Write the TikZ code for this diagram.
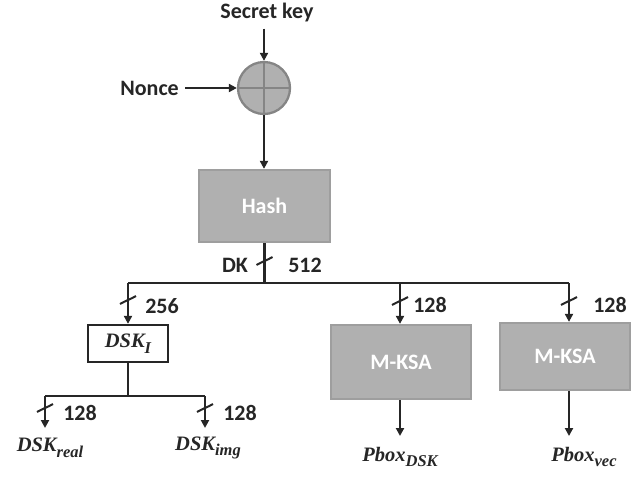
\documentclass[tikz,border=0pt]{standalone}
\usepackage{fontspec}
\setmainfont{Carlito}
\newfontfamily\varfont{Liberation Serif}
\usetikzlibrary{arrows.meta}
% bold italic variable name with a lowered subscript
\newcommand\varname[2]{{\varfont\bfseries\itshape #1\raisebox{-0.28em}{\fontsize{16.5}{18}\selectfont #2}}}
\begin{document}
\begin{tikzpicture}[x=1pt,y=-1pt,
  wire/.style={line width=2.3pt, draw=black!85},
  arr/.style={wire, -{Triangle[length=8pt,width=8pt]}},
  lbl/.style={font=\fontsize{22}{26}\selectfont\bfseries, text=black!85, inner sep=0pt},
  varlbl/.style={font=\fontsize{20.5}{24}\selectfont, text=black!85, inner sep=0pt},
  grayblock/.style={draw=black!38, line width=2.3pt, fill=black!31, text=white,
    font=\fontsize{22}{26}\selectfont\bfseries},
  whiteblock/.style={draw=black!85, line width=2.3pt, fill=white, text=black!85,
    font=\fontsize{20.5}{24}\selectfont},
  busslash/.pic={\draw[line width=2pt, draw=black!85] (-8,4) .. controls (-3,1) and (3,-1) .. (8,-4);}
]
\useasboundingbox (0,0) rectangle (631,480);

% inputs and the XOR
\node[lbl] (sk) at (267,13) {Secret key};
\node[lbl, anchor=east] (nonce) at (179,88) {Nonce};
\node[circle, minimum size=52pt, inner sep=0pt, fill=black!31, draw=black!48, line width=2.3pt] (xor) at (264,88) {};
\draw[line width=2.3pt, draw=black!48] (xor.north) -- (xor.south) (xor.west) -- (xor.east);
\draw[arr] (sk.south) ++(-3,6) coordinate (skout) -- (skout |- xor.north);
\draw[arr] (nonce.east) ++(6,0) coordinate (nout) -- (xor.west);

% hash
\node[grayblock, minimum width=131pt, minimum height=72pt] (hash) at (264.5,206) {Hash};
\draw[arr] (xor.south) -- (hash.north -| xor.south);

% main key bus
\coordinate (bus) at (264.5,283);
\coordinate (busL) at (128,283);
\coordinate (busM) at (400,283);
\coordinate (busR) at (569,283);
\draw[wire] (hash.south) -- (bus);
\draw[wire] (busL) -- (busR);
\pic at (264.5,261) {busslash};
\node[lbl] (dk) at (235,265) {DK};
\node[lbl] (w512) at (305,265) {512};

% DSK_I branch
\node[whiteblock, minimum width=80pt, minimum height=37pt, inner sep=0pt] (dski) at (128,343.5) {\varname{DSK}{I}};
\draw[arr] (busL) -- (dski.north);
\pic at (128,300) {busslash};
\node[lbl] (w256) at (162,306) {256};

\coordinate (dsub) at (128,396);
\coordinate (dsubL) at (45,396);
\coordinate (dsubR) at (205,396);
\draw[wire] (dski.south) -- (dsub);
\draw[wire] (dsubL) -- (dsubR);
\node[varlbl] (dreal) at (50,448) {\varname{DSK}{real}};
\node[varlbl] (dimg) at (208,448) {\varname{DSK}{img}};
\draw[arr] (dsubL) -- (45,428);
\draw[arr] (dsubR) -- (205,428);
\pic at (45,408) {busslash};
\pic at (205,408) {busslash};
\node[lbl] (w128a) at (80,413) {128};
\node[lbl] (w128b) at (240,413) {128};

% M-KSA branches
\node[grayblock, minimum width=140pt, minimum height=74pt] (ksa1) at (401,362) {M-KSA};
\node[grayblock, minimum width=130pt, minimum height=67pt] (ksa2) at (565,356.5) {M-KSA};
\draw[arr] (busM) -- (busM |- ksa1.north);
\draw[arr] (busR) -- (busR |- ksa2.north);
\pic at (400,301) {busslash};
\pic at (569,301) {busslash};
\node[lbl] (w128c) at (430,305) {128};
\node[lbl] (w128d) at (610,305) {128};

\node[varlbl] (pdsk) at (400,457) {\varname{Pbox}{DSK}};
\node[varlbl] (pvec) at (584,457) {\varname{Pbox}{vec}};
\draw[arr] (busM |- ksa1.south) -- (400,436);
\draw[arr] (busR |- ksa2.south) -- (569,436);
\end{tikzpicture}
\end{document}
